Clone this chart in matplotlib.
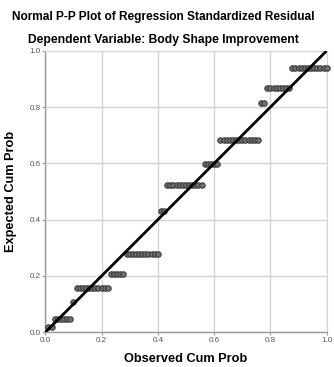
import numpy as np
import matplotlib
matplotlib.use("Agg")
import matplotlib.pyplot as plt

# expected cum prob levels and how many points sit at each level
exp_levels = [0.020, 0.048, 0.109, 0.156, 0.206, 0.277, 0.431, 0.522, 0.597, 0.683, 0.815, 0.869, 0.938]
level_counts = [2, 6, 1, 11, 5, 11, 2, 12, 5, 13, 2, 8, 12]
tick_vals = [0.0, 0.2, 0.4, 0.6, 0.8, 1.0]
tick_text = ["0.0", "0.2", "0.4", "0.6", "0.8", "1.0"]

title1 = "Normal P-P Plot of Regression Standardized Residual"
title2 = "Dependent Variable: Body Shape Improvement"

plt.rcParams['font.family'] = ['Liberation Sans', 'DejaVu Sans']

expected = np.repeat(exp_levels, level_counts)
n = len(expected)
observed = np.arange(1, n + 1) / n

fig = plt.figure(figsize=(3.34, 3.67), dpi=100)
ax = fig.add_axes([0.1356, 0.0946, 0.8425, 0.767])

ax.set_xlim(0, 1)
ax.set_ylim(0, 1)
ax.set_xticks(tick_vals)
ax.set_yticks(tick_vals)
ax.set_xticklabels(tick_text)
ax.set_yticklabels(tick_text)
ax.grid(True, color="#d4d4d4", linewidth=1.0)
ax.set_axisbelow(True)

for s in ["top", "right"]:
    ax.spines[s].set_color("#d4d4d4")
for s in ["left", "bottom"]:
    ax.spines[s].set_color("#999999")
    ax.spines[s].set_linewidth(1.0)
ax.tick_params(axis="both", labelsize=5.8, colors="#999999", labelcolor="#555555",
               length=2.5, width=0.8, pad=1)

ax.scatter(observed, expected, s=16, facecolor="#6e6e6e", edgecolor="#2a2a2a",
           linewidths=0.6, zorder=3, clip_on=False)
ax.plot([0, 1], [0, 1], color="black", linewidth=2.0, zorder=4)

fig.text(0.49, 0.953, title1, ha="center", va="center", fontsize=8.6, fontweight="bold")
fig.text(0.489, 0.891, title2, ha="center", va="center", fontsize=8.7, fontweight="bold")
ax.set_xlabel("Observed Cum Prob", fontsize=9.2, fontweight="bold", labelpad=6.5)
ax.set_ylabel("Expected Cum Prob", fontsize=9.2, fontweight="bold", labelpad=9)

fig.savefig("out.png", dpi=100)
